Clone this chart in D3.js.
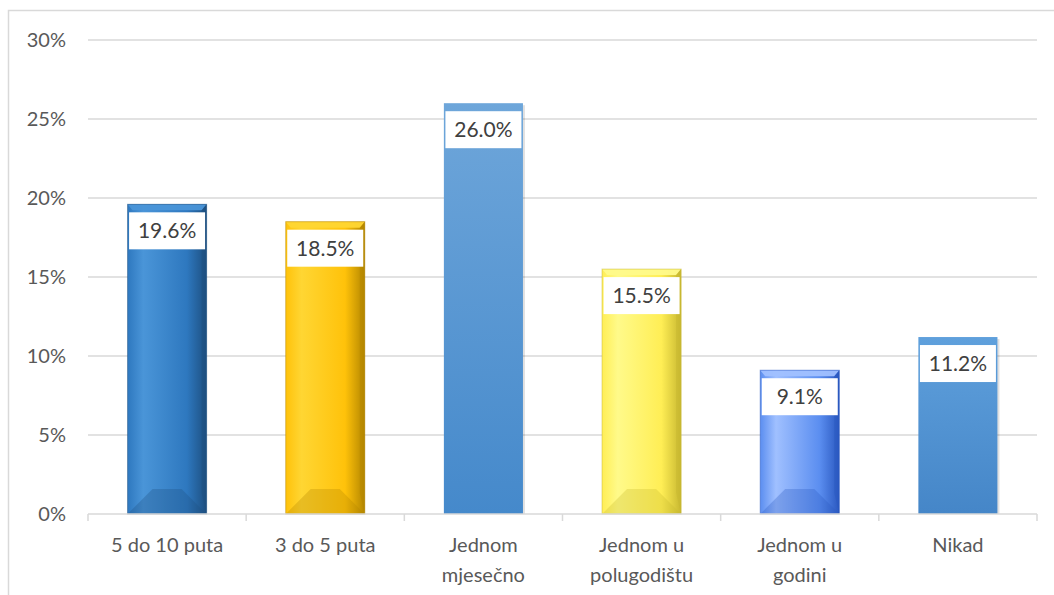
<!DOCTYPE html>
<html>
<head>
<meta charset="utf-8">
<script src="https://cdn.jsdelivr.net/npm/d3@7"></script>
<style>
  html, body { margin: 0; padding: 0; background: #fff; }
  svg { display: block; }
  text { font-family: Lato, "Open Sans", "Noto Sans", sans-serif; }
</style>
</head>
<body>
<div id="chart"></div>
<script>
// Survey responses: how often the activity happens
const categories = [["5 do 10 puta"], ["3 do 5 puta"], ["Jednom", "mjesečno"], ["Jednom u", "polugodištu"], ["Jednom u", "godini"], ["Nikad"]];
const values = [19.6, 18.5, 26.0, 15.5, 9.1, 11.2];
const tickValues = [0, 5, 10, 15, 20, 25, 30];
// fill styles per bar: [light, base, dark, bevelled]
const palettes = [
  ["#4a95d8", "#2e78bf", "#1d4f80", true],
  ["#ffd633", "#ffc20a", "#b38600", true],
  ["#6ea6da", "#5598d8", "#4589cb", false],
  ["#fffa8a", "#ffee55", "#c8b830", true],
  ["#a0c0ff", "#5b8ef0", "#2a58c0", true],
  ["#5fa0dc", "#5496d6", "#4586c8", false]
];

const W = 1054, H = 595;
const margin = { left: 88, right: 17, top: 40, bottom: 81 };

const svg = d3.select("#chart").append("svg").attr("width", W).attr("height", H);
const defs = svg.append("defs");

// outer chart frame
svg.append("rect").attr("x", 8.5).attr("y", 10.5).attr("width", W + 10).attr("height", H + 10)
  .attr("fill", "none").attr("stroke", "#d9d9d9").attr("stroke-width", 1.5);

const x = d3.scaleBand().domain(d3.range(values.length))
  .range([margin.left, W - margin.right]).paddingInner(0.5).paddingOuter(0.25);
const y = d3.scaleLinear().domain([0, 30]).range([H - margin.bottom, margin.top]);

// gridlines
svg.append("g").selectAll("line").data(tickValues.slice(1)).join("line")
  .attr("x1", margin.left).attr("x2", W - margin.right)
  .attr("y1", d => y(d)).attr("y2", d => y(d))
  .attr("stroke", "#d9d9d9").attr("stroke-width", 1.3);

// y tick labels
svg.append("g").selectAll("text").data(tickValues).join("text")
  .attr("x", 66).attr("y", d => y(d)).attr("dy", "0.35em")
  .attr("text-anchor", "end").attr("font-size", 20).attr("fill", "#595959")
  .text(d => d + "%");

// gradients
palettes.forEach((p, i) => {
  const g = defs.append("linearGradient").attr("id", "g" + i);
  if (p[3]) {
    g.attr("x1", 0).attr("x2", 1).attr("y1", 0).attr("y2", 0);
    g.append("stop").attr("offset", 0).attr("stop-color", p[1]);
    g.append("stop").attr("offset", 0.2).attr("stop-color", p[0]);
    g.append("stop").attr("offset", 0.75).attr("stop-color", p[1]);
    g.append("stop").attr("offset", 1).attr("stop-color", p[2]);
  } else {
    g.attr("x1", 0).attr("x2", 0).attr("y1", 0).attr("y2", 1);
    g.append("stop").attr("offset", 0).attr("stop-color", p[0]);
    g.append("stop").attr("offset", 1).attr("stop-color", p[2]);
  }
});

const bars = svg.append("g").selectAll("g").data(values).join("g");

bars.append("rect")
  .attr("x", (d, i) => x(i)).attr("width", x.bandwidth())
  .attr("y", d => y(d)).attr("height", d => y(0) - y(d))
  .attr("fill", (d, i) => `url(#g${i})`);

// bevel facets on the framed bars
bars.each(function (d, i) {
  const p = palettes[i];
  const g = d3.select(this);
  const x0 = x(i), x1 = x(i) + x.bandwidth(), yt = y(d), yb = y(0);
  if (p[3]) {
    const t = 6, b = 25, s = 5;
    g.append("polygon").attr("points", [[x0, yt], [x1, yt], [x1 - s, yt + t], [x0 + s, yt + t]].join(" "))
      .attr("fill", p[0]).attr("opacity", 0.95);
    g.append("polygon").attr("points", [[x1, yt], [x1 - s, yt + t], [x1 - s, yb - b + 4], [x1, yb]].join(" "))
      .attr("fill", p[2]).attr("opacity", 0.5);
    g.append("polygon").attr("points", [[x0, yb], [x0 + b, yb - b], [x1 - b, yb - b], [x1, yb]].join(" "))
      .attr("fill", p[2]).attr("opacity", 0.3);
    g.append("rect").attr("x", x0).attr("y", yt).attr("width", x1 - x0).attr("height", yb - yt)
      .attr("fill", "none").attr("stroke", p[2]).attr("stroke-opacity", 0.5).attr("stroke-width", 1);
  } else {
    g.append("rect").attr("x", x1).attr("y", yt + 2).attr("width", 2).attr("height", yb - yt - 2)
      .attr("fill", "#000").attr("opacity", 0.12);
  }
});

// value labels in white boxes
const lw = 76, lh = 37;
bars.append("rect")
  .attr("x", (d, i) => x(i) + x.bandwidth() / 2 - lw / 2)
  .attr("y", d => y(d) + 8).attr("width", lw).attr("height", lh)
  .attr("fill", "#fff");
bars.append("text")
  .attr("x", (d, i) => x(i) + x.bandwidth() / 2)
  .attr("y", d => y(d) + 8 + lh / 2).attr("dy", "0.36em")
  .attr("text-anchor", "middle").attr("font-size", 21).attr("fill", "#404040")
  .text(d => d.toFixed(1) + "%");

// x axis line and ticks
const axisY = y(0);
svg.append("line").attr("x1", margin.left).attr("x2", W - margin.right)
  .attr("y1", axisY).attr("y2", axisY).attr("stroke", "#d9d9d9").attr("stroke-width", 1.5);
const step = (W - margin.right - margin.left) / values.length;
svg.append("g").selectAll("line").data(d3.range(values.length + 1)).join("line")
  .attr("x1", i => margin.left + i * step).attr("x2", i => margin.left + i * step)
  .attr("y1", axisY).attr("y2", axisY + 7).attr("stroke", "#d9d9d9").attr("stroke-width", 1.5);

// category labels
const cl = svg.append("g").selectAll("text").data(categories).join("text")
  .attr("text-anchor", "middle").attr("font-size", 20).attr("fill", "#595959")
  .attr("x", (d, i) => x(i) + x.bandwidth() / 2).attr("y", 552);
cl.selectAll("tspan").data(d => d).join("tspan")
  .attr("x", function () { return d3.select(this.parentNode).attr("x"); })
  .attr("dy", (d, j) => j === 0 ? 0 : 30)
  .text(d => d);
</script>
</body>
</html>
